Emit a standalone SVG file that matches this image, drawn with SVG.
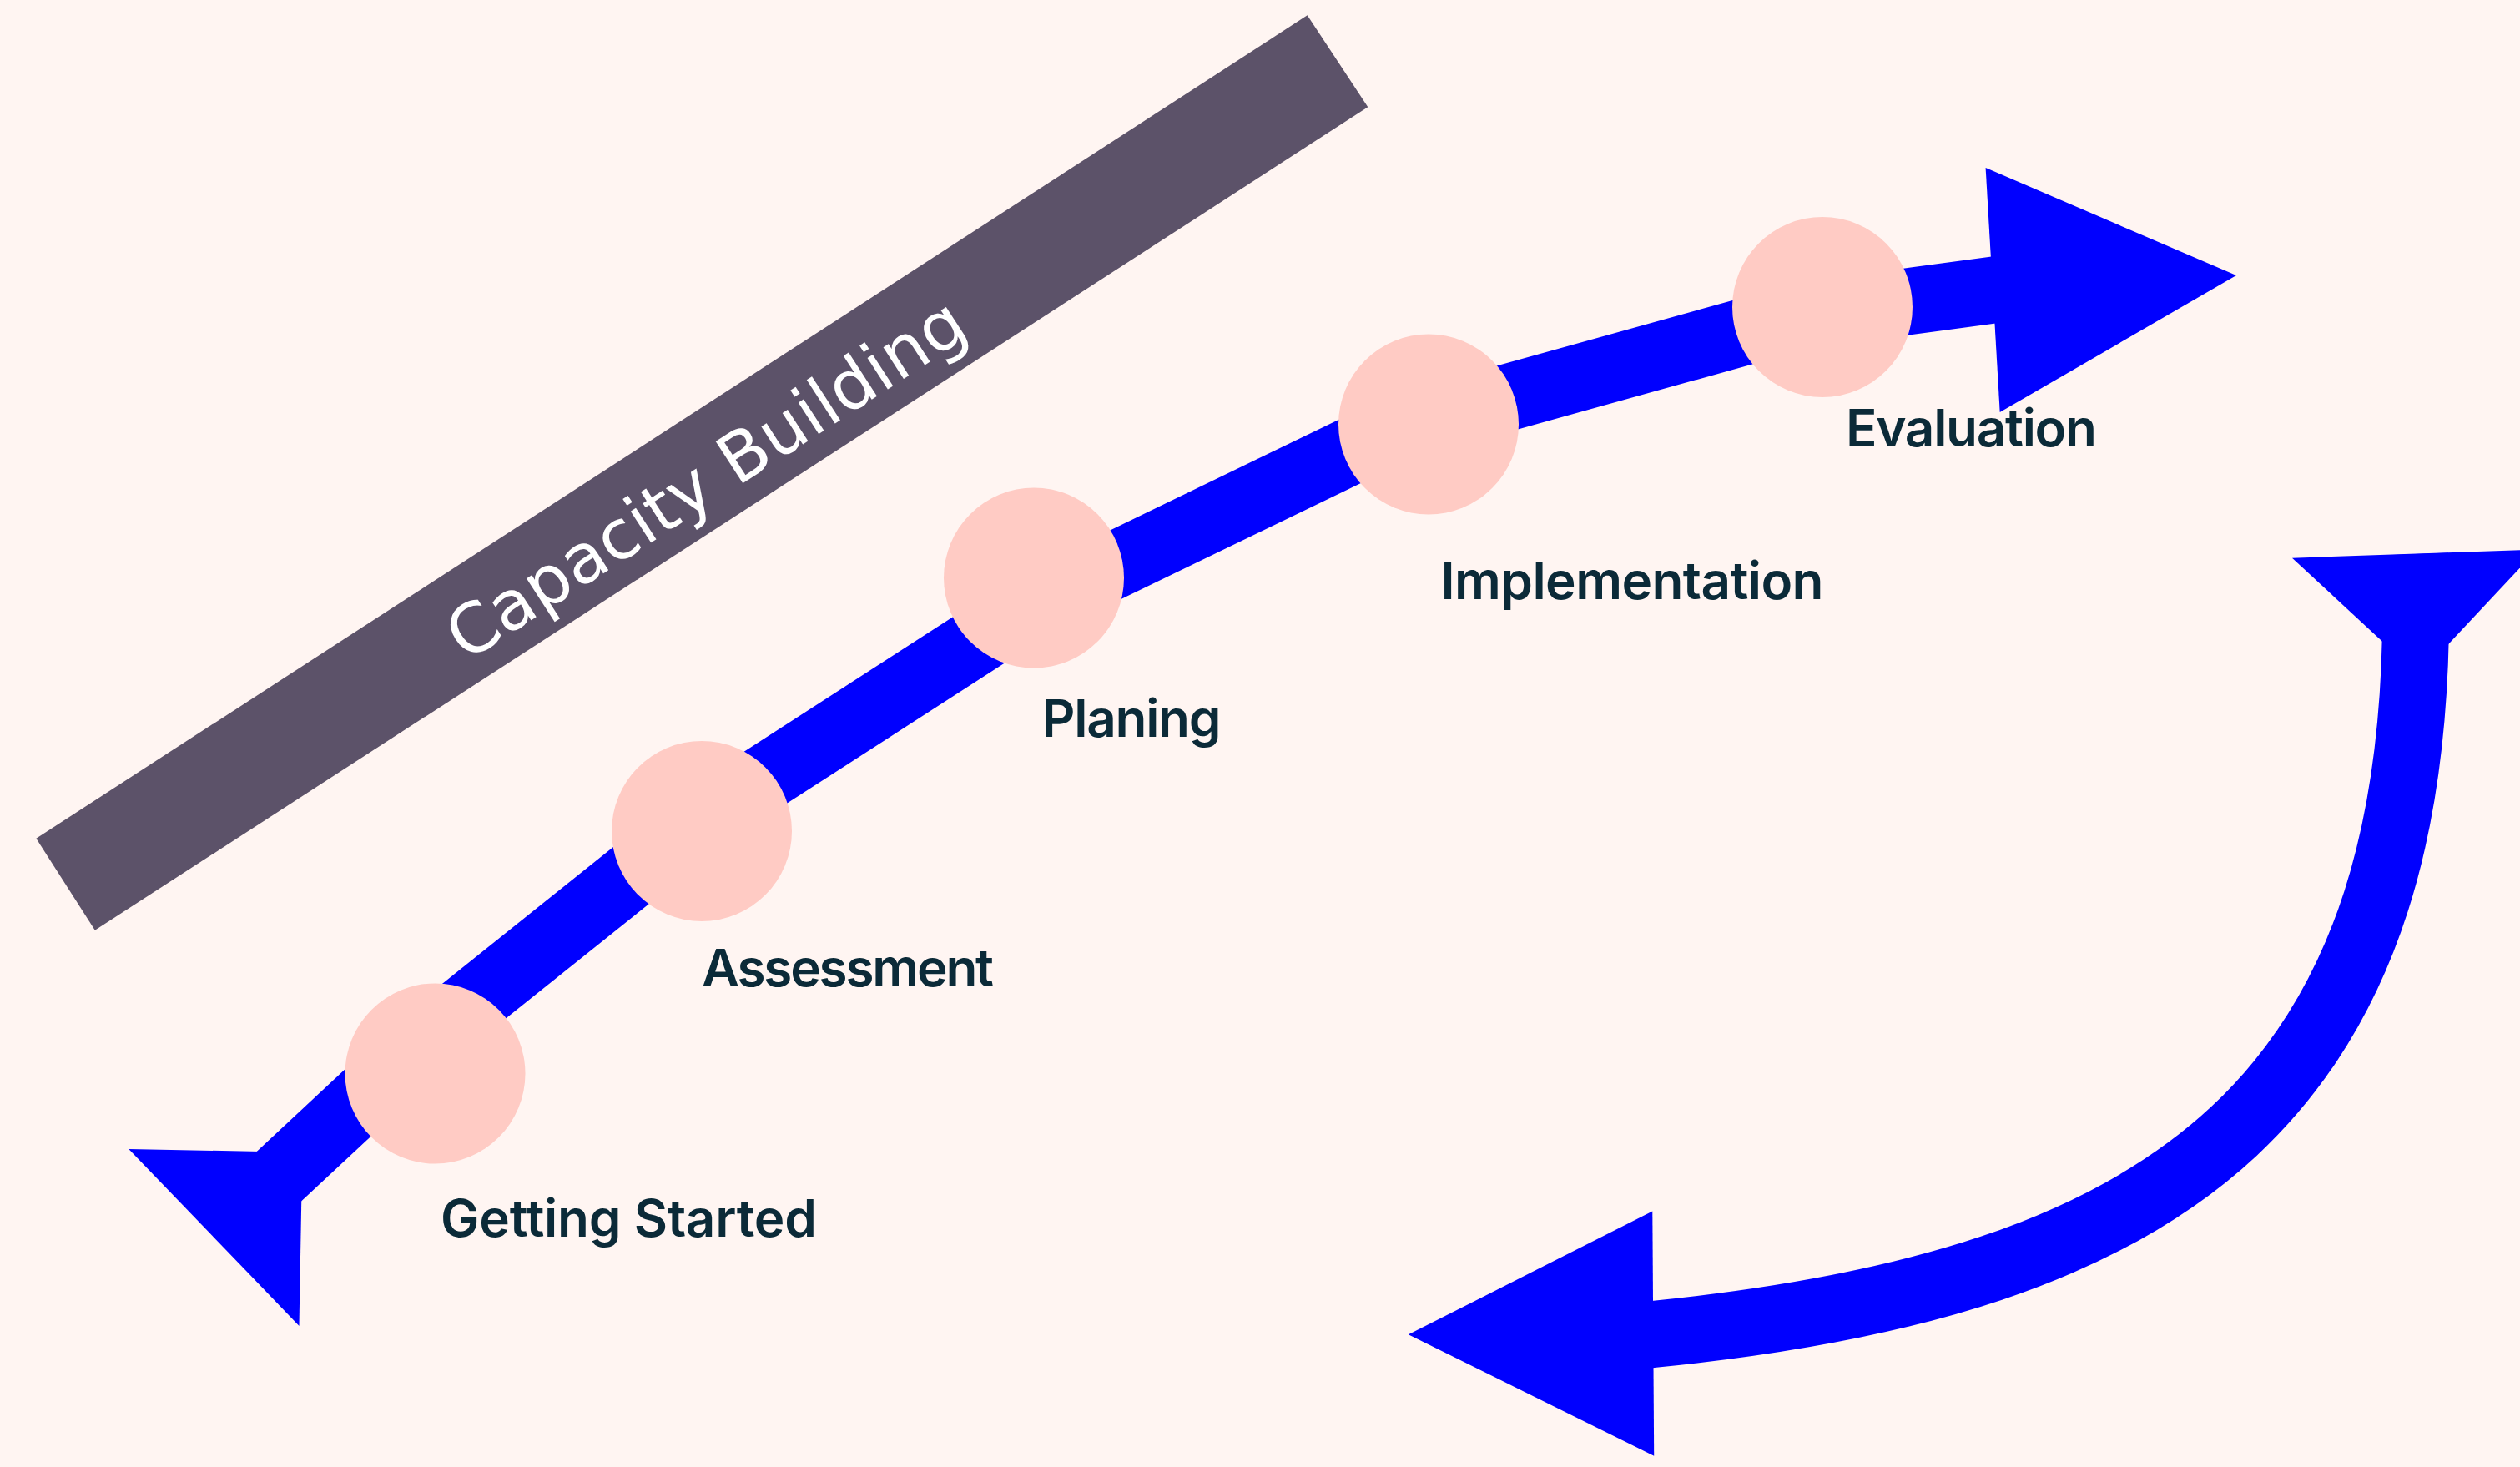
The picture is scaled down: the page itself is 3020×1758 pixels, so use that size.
<svg xmlns="http://www.w3.org/2000/svg" width="3020" height="1758" viewBox="0 0 3020 1758">
  <style>
    .flow { fill: none; stroke: #0000ff; stroke-width: 80; stroke-linejoin: round; }
    .head { fill: #0000ff; }
    .dot { fill: #ffcbc4; }
    .label { font-family: Inter, "Noto Sans", "Liberation Sans", sans-serif; font-size: 62px; font-weight: 600; fill: #0b2a38; }
    .band { fill: #5c5269; }
    .band-text { font-family: "DejaVu Sans", "Liberation Sans", sans-serif; font-size: 82px; fill: #ffffff; }
  </style>

  <rect width="3020" height="1758" fill="#fff5f2"/>

  <!-- diagonal band -->
  <g id="capacity-building">
    <polygon class="band" points="43.4,1004.8 1566.7,18.3 1639.3,128.3 113.8,1114.8"/>
    <text class="band-text" text-anchor="middle" transform="translate(841.35,566.55) rotate(-32.93)" x="0" y="37" textLength="722" lengthAdjust="spacing">Capacity Building</text>
  </g>

  <!-- connectors -->
  <g id="connectors">
    <path id="main-flow" class="flow" d="M260,1479 L509,1247 L844,979 L1240.6,723.3 L1676,512.7 L2158.3,378.8 L2420,343.3"/>
    <polygon class="head" points="154.3,1376.9 362.3,1381 358.5,1588.9"/>
    <polygon class="head" points="2379.6,201 2680,330 2396.7,494"/>

    <path id="return-flow" class="flow" d="M2894,664 C2917,1324 2596.5,1537.4 1981,1599 L1955,1602"/>
    <polygon class="head" points="2747,668.7 3040.8,658.4 2899,809.5"/>
    <polygon class="head" points="1980.3,1451.5 1687.8,1599.2 1982.2,1744.7"/>
  </g>

  <!-- stages -->
  <g id="getting-started">
    <circle class="dot" cx="521.5" cy="1286.5" r="108"/>
    <text class="label" x="528" y="1482" textLength="451" lengthAdjust="spacing">Getting Started</text>
  </g>
  <g id="assessment">
    <circle class="dot" cx="841" cy="996" r="108"/>
    <text class="label" x="841" y="1182" textLength="350" lengthAdjust="spacing">Assessment</text>
  </g>
  <g id="planing">
    <circle class="dot" cx="1239" cy="692.5" r="108"/>
    <text class="label" x="1248.5" y="883" textLength="215" lengthAdjust="spacing">Planing</text>
  </g>
  <g id="implementation">
    <circle class="dot" cx="1712" cy="508.5" r="108"/>
    <text class="label" x="1726.5" y="718" textLength="459" lengthAdjust="spacing">Implementation</text>
  </g>
  <g id="evaluation">
    <circle class="dot" cx="2184" cy="368" r="108"/>
    <text class="label" x="2212" y="535" textLength="301" lengthAdjust="spacing">Evaluation</text>
  </g>
</svg>
